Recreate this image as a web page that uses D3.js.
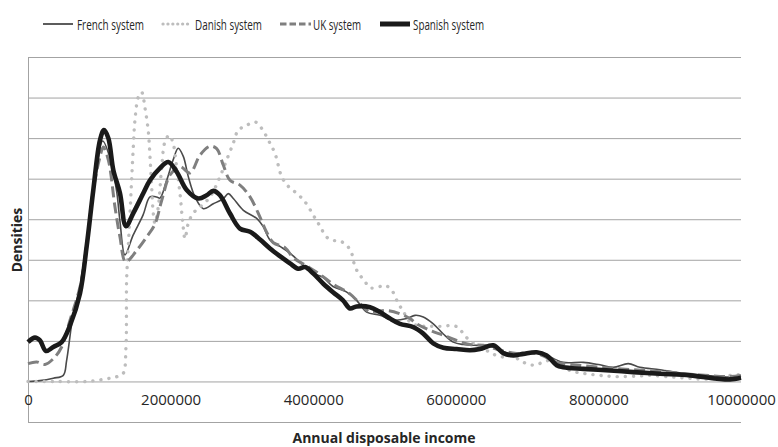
<!DOCTYPE html>
<html>
<head>
<meta charset="utf-8">
<script src="https://cdn.jsdelivr.net/npm/d3@7"></script>
<style>
  html, body { margin: 0; padding: 0; background: #fff; }
  svg { display: block; }
  text { font-family: "Open Sans", "Liberation Sans", sans-serif; fill: #262626; }
</style>
</head>
<body>
<svg id="chart" width="778" height="447"></svg>
<script>
// ---------- data (income, density in grid units) ----------
const seriesNames = ["French system", "Danish system", "UK system", "Spanish system"];
const xTicks = [0, 2000000, 4000000, 6000000, 8000000, 10000000];
const yGrid = [-1, 0, 1, 2, 3, 4, 5, 6, 7, 8];

const french = [
  [0,0.0],[168000,0.02],[355000,0.08],[495000,0.15],[542000,0.52],[636000,1.67],[729000,2.33],
  [822000,3.48],[939000,4.94],[1047000,5.93],[1150000,5.51],[1243000,4.69],[1290000,3.95],
  [1360000,3.12],[1473000,3.60],[1613000,4.10],[1711000,4.55],[1804000,4.55],[1851000,4.52],
  [1945000,4.96],[2037000,5.47],[2107000,5.75],[2178000,5.55],[2248000,5.05],[2342000,4.55],
  [2459000,4.26],[2599000,4.38],[2740000,4.51],[2810000,4.63],[2880000,4.51],[3021000,4.22],
  [3207000,4.02],[3301000,3.81],[3394000,3.49],[3534000,3.33],[3698000,3.13],[3861000,2.86],
  [4002000,2.66],[4137000,2.57],[4278000,2.34],[4465000,2.21],[4609000,2.0],[4750000,1.71],
  [4937000,1.63],[5124000,1.51],[5311000,1.55],[5428000,1.63],[5544000,1.59],[5684000,1.42],
  [5825000,1.17],[5965000,0.97],[6105000,0.91],[6292000,0.89],[6432000,0.89],[6572000,0.81],
  [6759000,0.68],[6947000,0.70],[7134000,0.72],[7321000,0.60],[7507000,0.47],[7788000,0.47],
  [8022000,0.41],[8209000,0.35],[8419000,0.44],[8583000,0.35],[8864000,0.29],[9191000,0.20],
  [9518000,0.15],[9846000,0.11],[10000000,0.11]
];

const danish = [
  [0,0.0],[351000,0.0],[827000,0.0],[1150000,0.08],[1266000,0.13],[1336000,0.20],[1374000,0.85],
  [1383000,2.49],[1406000,3.31],[1431000,4.15],[1453000,4.96],[1477000,5.78],[1500000,6.44],
  [1547000,7.01],[1594000,7.13],[1641000,6.74],[1687000,6.17],[1711000,5.54],[1734000,4.81],
  [1757000,4.15],[1781000,3.90],[1827000,4.30],[1875000,5.28],[1921000,5.91],[1982000,6.07],
  [2037000,5.86],[2085000,5.28],[2132000,4.63],[2169000,3.95],[2202000,3.52],[2248000,3.90],
  [2318000,4.15],[2412000,4.30],[2553000,4.55],[2693000,5.05],[2786000,5.46],[2880000,5.88],
  [2950000,6.20],[3044000,6.29],[3184000,6.40],[3277000,6.24],[3371000,5.95],[3464000,5.62],
  [3558000,5.05],[3651000,4.81],[3768000,4.64],[3885000,4.43],[4025000,4.03],[4095000,3.83],
  [4188000,3.56],[4278000,3.48],[4376000,3.46],[4469000,3.36],[4539000,3.16],[4586000,2.83],
  [4656000,2.62],[4727000,2.46],[4797000,2.31],[4914000,2.33],[5007000,2.37],[5101000,2.25],
  [5194000,1.92],[5264000,1.73],[5334000,1.51],[5451000,1.38],[5591000,1.36],[5684000,1.36],
  [5825000,1.36],[5942000,1.38],[6035000,1.33],[6105000,1.18],[6199000,1.00],[6339000,0.85],
  [6479000,0.72],[6572000,0.64],[6690000,0.60],[6783000,0.64],[6900000,0.52],[6993000,0.44],
  [7110000,0.40],[7227000,0.48],[7321000,0.52],[7414000,0.48],[7601000,0.27],[7784000,0.20],
  [8022000,0.15],[8255000,0.12],[8535000,0.13],[8724000,0.15],[8957000,0.12],[9191000,0.09],
  [9425000,0.06],[9663000,0.07],[9846000,0.15],[10000000,0.17]
];

const uk = [
  [0,0.44],[122000,0.48],[238000,0.42],[355000,0.56],[472000,0.85],[589000,1.51],[729000,2.33],
  [822000,3.32],[916000,4.72],[1010000,5.54],[1056000,5.78],[1127000,5.46],[1220000,4.30],
  [1290000,3.56],[1370000,2.95],[1524000,3.23],[1664000,3.56],[1781000,3.88],[1875000,4.46],
  [1992000,5.09],[2132000,5.30],[2272000,5.14],[2412000,5.58],[2553000,5.80],[2646000,5.74],
  [2740000,5.33],[2833000,4.96],[2973000,4.84],[3114000,4.55],[3254000,4.05],[3347000,3.68],
  [3441000,3.42],[3604000,3.30],[3721000,3.05],[3908000,2.85],[4095000,2.64],[4278000,2.40],
  [4516000,2.16],[4656000,1.92],[4797000,1.71],[5031000,1.75],[5217000,1.67],[5357000,1.55],
  [5451000,1.42],[5638000,1.26],[5825000,1.14],[6012000,1.01],[6199000,0.91],[6386000,0.89],
  [6620000,0.77],[6853000,0.69],[7134000,0.69],[7414000,0.47],[7507000,0.44],[8022000,0.35],
  [8489000,0.29],[8957000,0.23],[9425000,0.16],[9846000,0.12],[10000000,0.15]
];

const spanish = [
  [0,0.97],[98000,1.08],[168000,1.01],[252000,0.75],[355000,0.85],[472000,0.97],[589000,1.38],
  [729000,2.17],[822000,3.32],[916000,4.72],[1010000,5.95],[1066000,6.20],[1127000,6.00],
  [1197000,5.21],[1290000,4.64],[1374000,3.83],[1477000,4.15],[1617000,4.64],[1711000,4.96],
  [1851000,5.26],[1968000,5.41],[2085000,5.17],[2226000,4.72],[2389000,4.51],[2506000,4.59],
  [2599000,4.70],[2693000,4.59],[2833000,4.14],[2973000,3.77],[3114000,3.69],[3254000,3.50],
  [3394000,3.28],[3534000,3.09],[3675000,2.91],[3791000,2.78],[3885000,2.82],[4002000,2.66],
  [4142000,2.41],[4278000,2.20],[4418000,2.00],[4516000,1.80],[4609000,1.85],[4797000,1.83],
  [4937000,1.71],[5077000,1.55],[5217000,1.42],[5404000,1.34],[5544000,1.18],[5684000,0.94],
  [5825000,0.83],[6012000,0.80],[6199000,0.77],[6339000,0.80],[6526000,0.89],[6666000,0.70],
  [6806000,0.64],[6947000,0.68],[7134000,0.72],[7274000,0.64],[7414000,0.40],[7507000,0.35],
  [7788000,0.31],[8163000,0.27],[8489000,0.23],[8864000,0.19],[9284000,0.15],[9663000,0.07],
  [9846000,0.05],[10000000,0.09]
];

// ---------- styles ----------
const styles = [
  { data: french,  color: "#4a4a4a", width: 1.6, dash: null,        cap: "butt",  legDash: null,       legW: 1.8 },
  { data: danish,  color: "#bdbdbd", width: 3.4, dash: "0.1,8",     cap: "round", legDash: "0.1,4.8",  legW: 3.2 },
  { data: uk,      color: "#7f7f7f", width: 3.0, dash: "11,5",      cap: "butt",  legDash: "6.5,3",    legW: 3.2 },
  { data: spanish, color: "#1a1a1a", width: 4.6, dash: null,        cap: "butt",  legDash: null,       legW: 5 }
];

const svg = d3.select("#chart");
const x = d3.scaleLinear().domain([0, 10000000]).range([28, 741]);
const y = d3.scaleLinear().domain([-1, 8]).range([422, 57]);

// gridlines
svg.append("g").selectAll("line").data(yGrid).join("line")
  .attr("x1", x(0)).attr("x2", x(10000000))
  .attr("y1", d => y(d) + 0.5).attr("y2", d => y(d) + 0.5)
  .attr("stroke", "#a3a3a3").attr("stroke-width", 1);

// vertical axis line
svg.append("line")
  .attr("x1", x(0) + 0.5).attr("x2", x(0) + 0.5)
  .attr("y1", y(8)).attr("y2", y(-1) + 1)
  .attr("stroke", "#a3a3a3").attr("stroke-width", 1);

// x tick labels (axis drawn without domain/ticks)
const xAxis = d3.axisBottom(x).tickValues(xTicks).tickFormat(d3.format("d")).tickSize(0).tickPadding(0);
const gx = svg.append("g").attr("transform", `translate(0,${y(0) + 19})`).call(xAxis);
gx.select(".domain").remove();
gx.selectAll("text")
  .attr("dy", "0.32em")
  .style("font-family", "'Open Sans', sans-serif")
  .style("font-size", "15px")
  .attr("fill", "#262626");

// lines
const line = d3.line().x(d => x(d[0])).y(d => y(d[1])).curve(d3.curveCatmullRom.alpha(0.5));
styles.forEach(s => {
  svg.append("path").datum(s.data)
    .attr("d", line)
    .attr("fill", "none")
    .attr("stroke", s.color)
    .attr("stroke-width", s.width)
    .attr("stroke-linejoin", "round")
    .attr("stroke-linecap", s.cap)
    .attr("stroke-dasharray", s.dash);
});

// legend
const legendPos = [
  { x1: 43, x2: 73, tx: 77, tw: 67 },
  { x1: 163, x2: 190, tx: 195, tw: 67 },
  { x1: 280, x2: 311, tx: 313, tw: 48 },
  { x1: 380, x2: 410, tx: 413, tw: 71 }
];
const leg = svg.append("g");
seriesNames.forEach((name, i) => {
  const s = styles[i], p = legendPos[i];
  leg.append("line")
    .attr("x1", p.x1).attr("x2", p.x2).attr("y1", 24).attr("y2", 24)
    .attr("stroke", s.color).attr("stroke-width", s.legW)
    .attr("stroke-linecap", s.cap)
    .attr("stroke-dasharray", s.legDash);
  leg.append("text")
    .attr("x", p.tx).attr("y", 29.5)
    .attr("textLength", p.tw).attr("lengthAdjust", "spacingAndGlyphs")
    .style("font-size", "15px")
    .text(name);
});

// axis titles
svg.append("text")
  .attr("x", 384).attr("y", 443)
  .attr("text-anchor", "middle")
  .style("font-size", "14px").style("font-weight", "bold")
  .text("Annual disposable income");

svg.append("text")
  .attr("transform", "translate(22,240) rotate(-90)")
  .attr("text-anchor", "middle")
  .style("font-size", "14px").style("font-weight", "bold")
  .text("Densities");
</script>
</body>
</html>
